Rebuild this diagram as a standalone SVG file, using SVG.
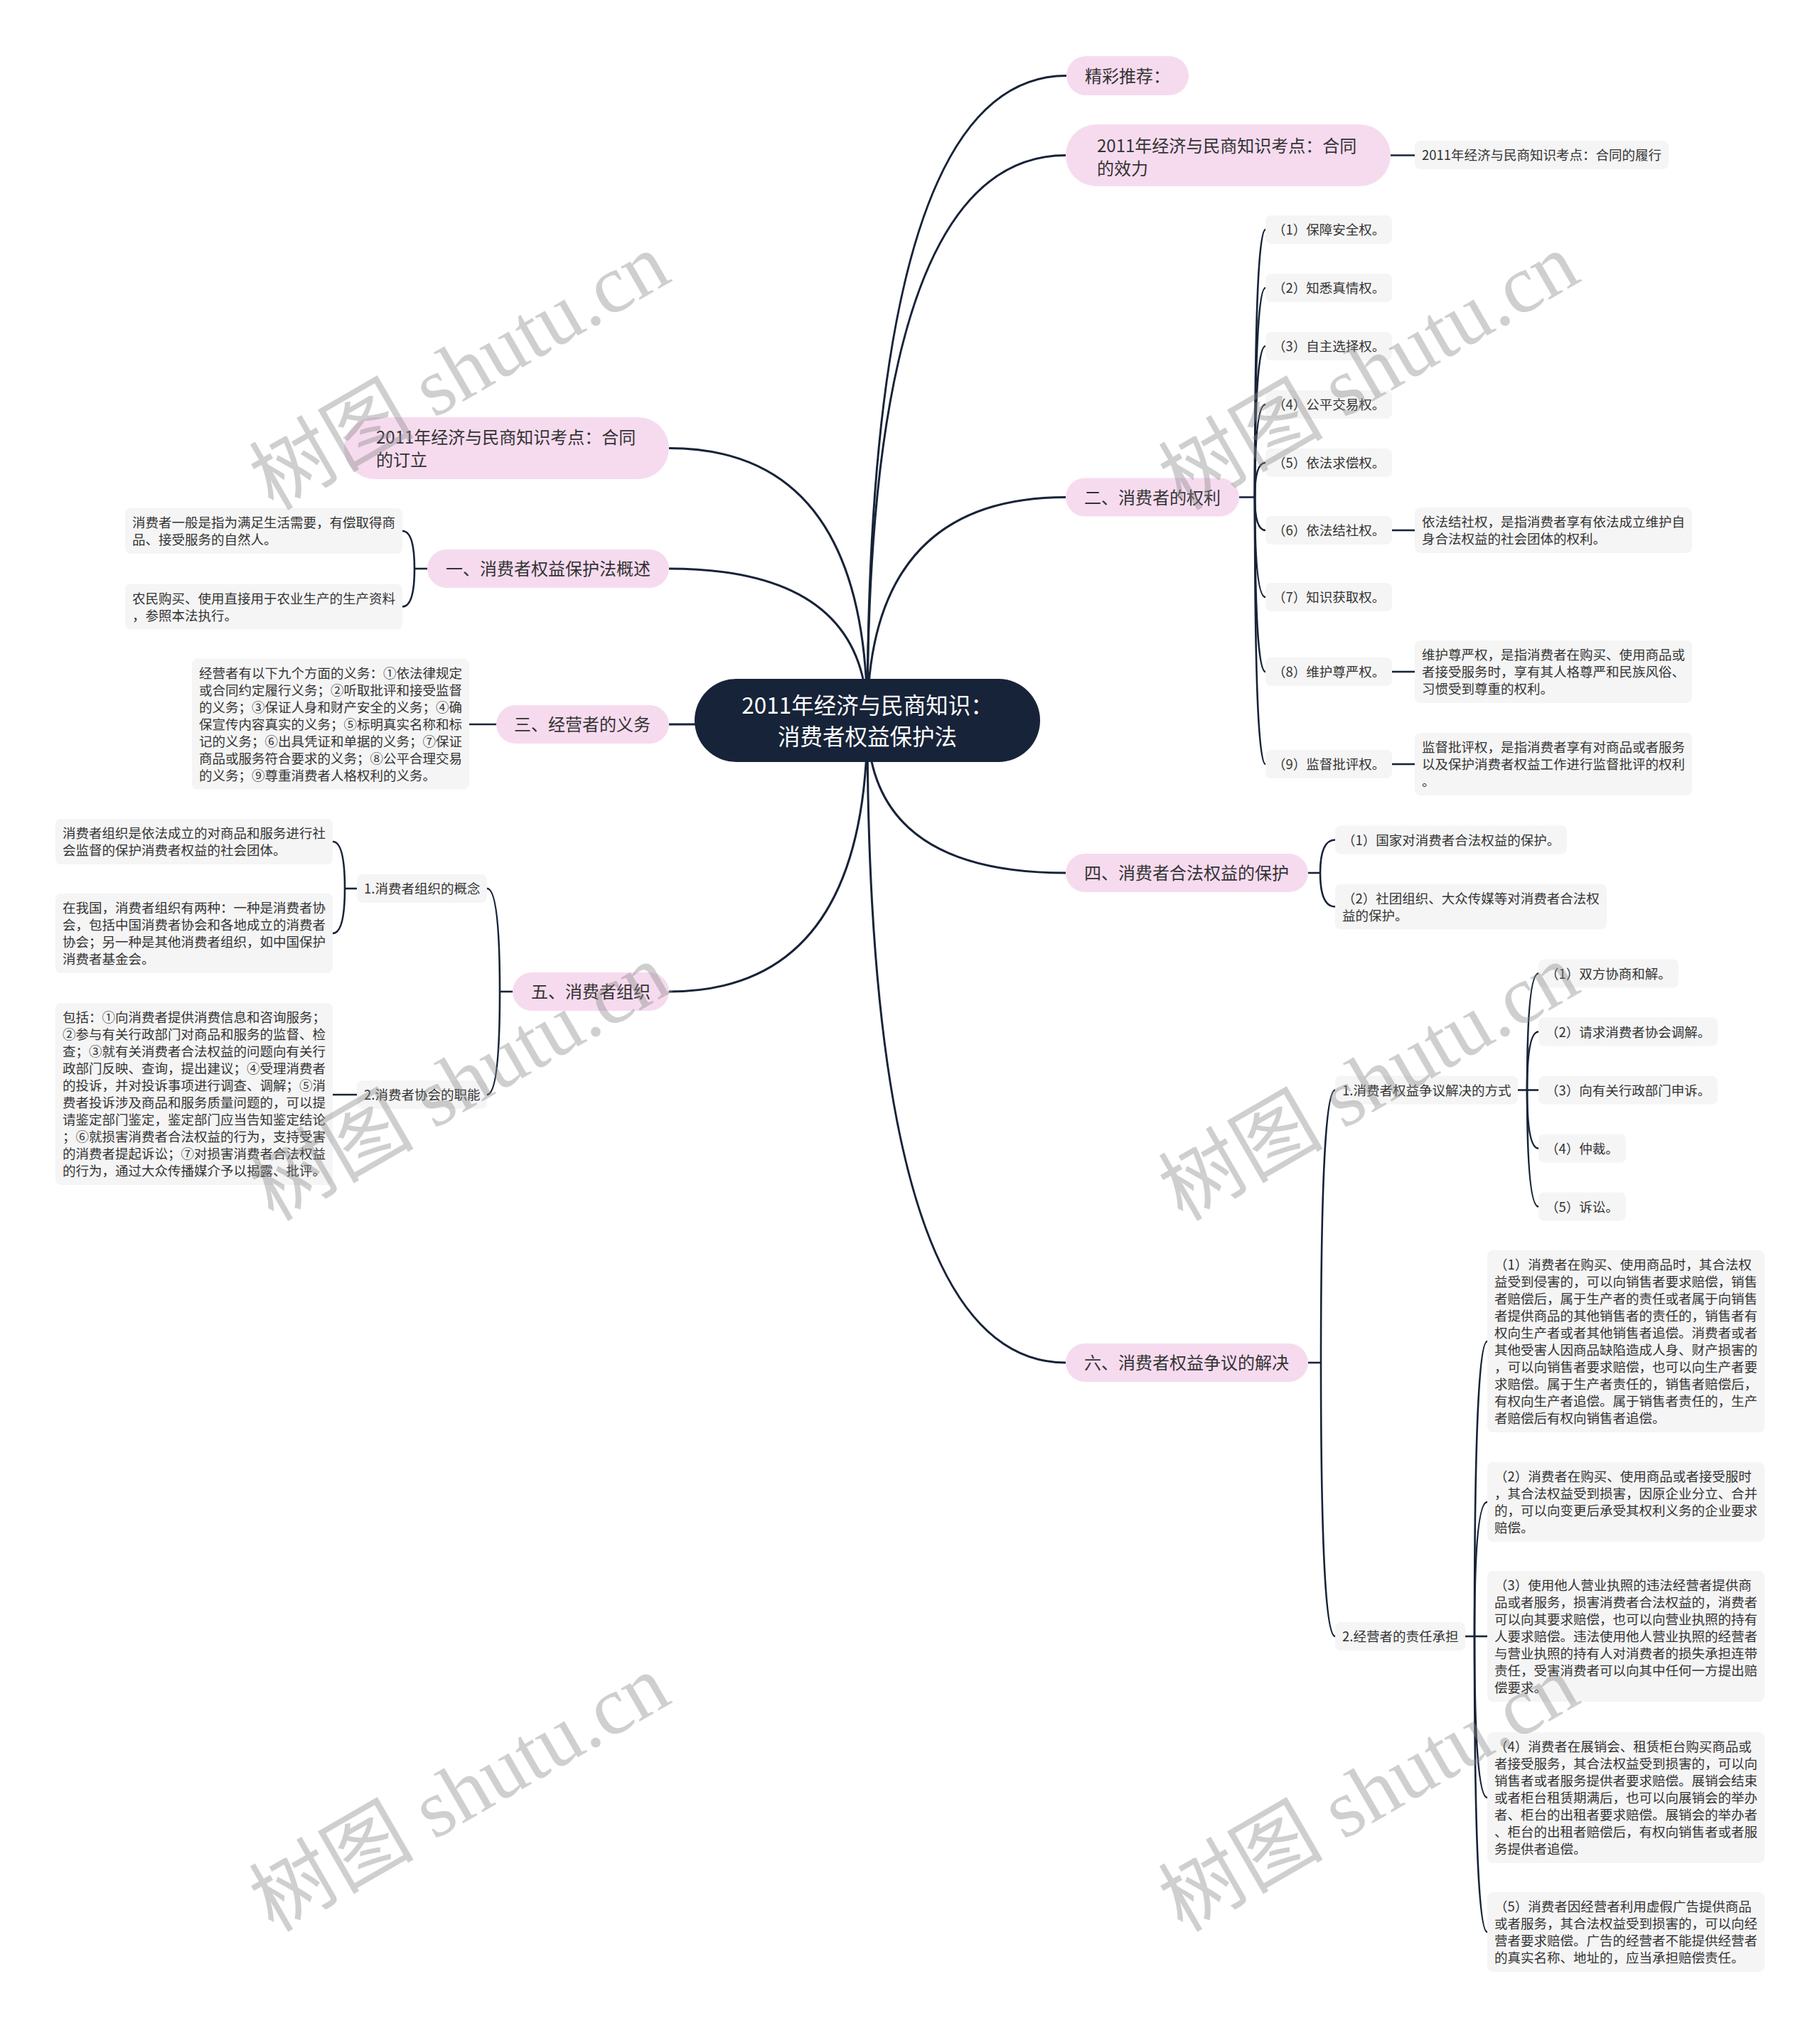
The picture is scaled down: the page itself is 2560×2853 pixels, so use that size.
<svg xmlns="http://www.w3.org/2000/svg" width="2560" height="2853" viewBox="0 0 2560 2853">
<style>
text{font-family:"Noto Sans CJK SC","Noto Sans",sans-serif;fill:#333333}
.pill{fill:#f6dbef}
.leaf{fill:#f5f5f5}
.t1{font-size:24px}
.t2{font-size:24px}
.s{font-size:18.5px}
.rt{font-size:31.5px;fill:#ffffff}
#connectors path{fill:none;stroke:#172338;stroke-width:2.6}
#connectors .m{stroke-width:3}
.wm{font-family:"Liberation Serif","Noto Sans CJK SC",serif;font-size:116px;fill:#8a8a8a;opacity:0.4}
</style>
<rect width="2560" height="2853" fill="#ffffff"/>
<g id="connectors">
<path class="m" d="M1220,1013 Q1220,106.5 1500,106.5"/>
<path class="m" d="M1220,1013 Q1220,218.5 1499,218.5"/>
<path class="m" d="M1220,1013 Q1220,699.5 1499,699.5"/>
<path class="m" d="M1220,1013 Q1220,1228 1499,1228"/>
<path class="m" d="M1220,1013 Q1220,1917 1499,1917"/>
<path class="m" d="M1220,1013 Q1220,630.5 941,630.5"/>
<path class="m" d="M1220,1013 Q1220,800 941,800"/>
<path class="m" d="M1220,1013 Q1220,1019 941,1019"/>
<path class="m" d="M1220,1013 Q1220,1395 941,1395"/>
<path d="M1956,218.5 H1990"/>
<path d="M1743,699.5 H1765"/>
<path d="M1765,699.5 Q1765,323 1780,323"/>
<path d="M1765,699.5 Q1765,405 1780,405"/>
<path d="M1765,699.5 Q1765,487 1780,487"/>
<path d="M1765,699.5 Q1765,569 1780,569"/>
<path d="M1765,699.5 Q1765,651 1780,651"/>
<path d="M1765,699.5 Q1765,746 1780,746"/>
<path d="M1765,699.5 Q1765,840 1780,840"/>
<path d="M1765,699.5 Q1765,945 1780,945"/>
<path d="M1765,699.5 Q1765,1075 1780,1075"/>
<path d="M1958,746 H1990"/>
<path d="M1958,945 H1990"/>
<path d="M1958,1075 H1990"/>
<path d="M1840,1228 H1857"/>
<path d="M1857,1228 Q1857,1181.5 1878,1181.5"/>
<path d="M1857,1228 Q1857,1275.5 1878,1275.5"/>
<path d="M1840,1917 H1858"/>
<path d="M1858,1917 Q1858,1533.5 1878,1533.5"/>
<path d="M1858,1917 Q1858,2302 1878,2302"/>
<path d="M2135,1533.5 H2148"/>
<path d="M2148,1533.5 Q2148,1369.5 2164,1369.5"/>
<path d="M2148,1533.5 Q2148,1451.5 2164,1451.5"/>
<path d="M2148,1533.5 H2164"/>
<path d="M2148,1533.5 Q2148,1615.5 2164,1615.5"/>
<path d="M2148,1533.5 Q2148,1697.5 2164,1697.5"/>
<path d="M2061,2302 H2074"/>
<path d="M2074,2302 Q2074,1887 2092,1887"/>
<path d="M2074,2302 Q2074,2113 2092,2113"/>
<path d="M2074,2302 H2092"/>
<path d="M2074,2302 Q2074,2529 2092,2529"/>
<path d="M2074,2302 Q2074,2718 2092,2718"/>
<path d="M601,800 H583"/>
<path d="M583,800 Q583,747 566,747"/>
<path d="M583,800 Q583,853.5 566,853.5"/>
<path d="M698,1019 H660"/>
<path d="M721,1395 H703"/>
<path d="M703,1395 Q703,1250 685,1250"/>
<path d="M703,1395 Q703,1540 685,1540"/>
<path d="M502,1250 H485"/>
<path d="M485,1250 Q485,1184 468,1184"/>
<path d="M485,1250 Q485,1313 468,1313"/>
<path d="M502,1540 H468"/>
</g>

<g id="root">
<rect x="977" y="955" width="486" height="117" rx="58.5" fill="#172338"/>
<text class="rt" x="1220" y="1003.5" text-anchor="middle">2011年经济与民商知识：</text>
<text class="rt" x="1220" y="1047.5" text-anchor="middle">消费者权益保护法</text>
</g>

<g id="n-jctj">
<rect class="pill" x="1500" y="79" width="172" height="55" rx="27.5"/>
<text class="t1" x="1526" y="115.5">精彩推荐：</text>
</g>
<g id="n-xiaoli">
<rect class="pill" x="1499" y="175" width="457" height="87" rx="43.5"/>
<text class="t2" x="1543" y="213.5">2011年经济与民商知识考点：合同</text>
<text class="t2" x="1543" y="245.5">的效力</text>
</g>
<g id="n-lvxing">
<rect class="leaf" x="1990" y="198" width="357" height="40" rx="8"/>
<text class="s" x="2000" y="225">2011年经济与民商知识考点：合同的履行</text>
</g>

<g id="n-quanli">
<rect class="pill" x="1499" y="672.5" width="244" height="54" rx="27"/>
<text class="t1" x="1525" y="708.5">二、消费者的权利</text>
</g>
<g id="n-r1"><rect class="leaf" x="1780" y="303" width="178" height="40" rx="8"/><text class="s" x="1790" y="330">（1）保障安全权。</text></g>
<g id="n-r2"><rect class="leaf" x="1780" y="385" width="178" height="40" rx="8"/><text class="s" x="1790" y="412">（2）知悉真情权。</text></g>
<g id="n-r3"><rect class="leaf" x="1780" y="467" width="178" height="40" rx="8"/><text class="s" x="1790" y="494">（3）自主选择权。</text></g>
<g id="n-r4"><rect class="leaf" x="1780" y="549" width="178" height="40" rx="8"/><text class="s" x="1790" y="576">（4）公平交易权。</text></g>
<g id="n-r5"><rect class="leaf" x="1780" y="631" width="178" height="40" rx="8"/><text class="s" x="1790" y="658">（5）依法求偿权。</text></g>
<g id="n-r6"><rect class="leaf" x="1780" y="726" width="178" height="40" rx="8"/><text class="s" x="1790" y="753">（6）依法结社权。</text></g>
<g id="n-r7"><rect class="leaf" x="1780" y="820" width="178" height="40" rx="8"/><text class="s" x="1790" y="847">（7）知识获取权。</text></g>
<g id="n-r8"><rect class="leaf" x="1780" y="925" width="178" height="40" rx="8"/><text class="s" x="1790" y="952">（8）维护尊严权。</text></g>
<g id="n-r9"><rect class="leaf" x="1780" y="1055" width="178" height="40" rx="8"/><text class="s" x="1790" y="1082">（9）监督批评权。</text></g>
<g id="n-r6d"><rect class="leaf" x="1990" y="714" width="390" height="64" rx="8"/>
<text class="s" x="2000" y="741">依法结社权，是指消费者享有依法成立维护自</text>
<text class="s" x="2000" y="765">身合法权益的社会团体的权利。</text></g>
<g id="n-r8d"><rect class="leaf" x="1990" y="901" width="390" height="88" rx="8"/>
<text class="s" x="2000" y="928">维护尊严权，是指消费者在购买、使用商品或</text>
<text class="s" x="2000" y="952">者接受服务时，享有其人格尊严和民族风俗、</text>
<text class="s" x="2000" y="976">习惯受到尊重的权利。</text></g>
<g id="n-r9d"><rect class="leaf" x="1990" y="1031" width="390" height="88" rx="8"/>
<text class="s" x="2000" y="1058">监督批评权，是指消费者享有对商品或者服务</text>
<text class="s" x="2000" y="1082">以及保护消费者权益工作进行监督批评的权利</text>
<text class="s" x="2000" y="1106">。</text></g>

<g id="n-baohu">
<rect class="pill" x="1499" y="1201" width="341" height="54" rx="27"/>
<text class="t1" x="1525" y="1237">四、消费者合法权益的保护</text>
</g>
<g id="n-bh1"><rect class="leaf" x="1878" y="1161.5" width="326" height="40" rx="8"/><text class="s" x="1888" y="1188.5">（1）国家对消费者合法权益的保护。</text></g>
<g id="n-bh2"><rect class="leaf" x="1878" y="1243.5" width="382" height="64" rx="8"/>
<text class="s" x="1888" y="1270.5">（2）社团组织、大众传媒等对消费者合法权</text>
<text class="s" x="1888" y="1294.5">益的保护。</text></g>

<g id="n-jiejue">
<rect class="pill" x="1499" y="1890" width="341" height="54" rx="27"/>
<text class="t1" x="1525" y="1926">六、消费者权益争议的解决</text>
</g>
<g id="n-fangshi"><rect class="leaf" x="1878" y="1513.5" width="257" height="40" rx="8"/><text class="s" x="1888" y="1540.5">1.消费者权益争议解决的方式</text></g>
<g id="n-fs1"><rect class="leaf" x="2164" y="1349.5" width="197" height="40" rx="8"/><text class="s" x="2174" y="1376.5">（1）双方协商和解。</text></g>
<g id="n-fs2"><rect class="leaf" x="2164" y="1431.5" width="252" height="40" rx="8"/><text class="s" x="2174" y="1458.5">（2）请求消费者协会调解。</text></g>
<g id="n-fs3"><rect class="leaf" x="2164" y="1513.5" width="252" height="40" rx="8"/><text class="s" x="2174" y="1540.5">（3）向有关行政部门申诉。</text></g>
<g id="n-fs4"><rect class="leaf" x="2164" y="1595.5" width="123" height="40" rx="8"/><text class="s" x="2174" y="1622.5">（4）仲裁。</text></g>
<g id="n-fs5"><rect class="leaf" x="2164" y="1677.5" width="123" height="40" rx="8"/><text class="s" x="2174" y="1704.5">（5）诉讼。</text></g>
<g id="n-zeren"><rect class="leaf" x="1878" y="2282" width="183" height="40" rx="8"/><text class="s" x="1888" y="2309">2.经营者的责任承担</text></g>
<g id="n-zr1"><rect class="leaf" x="2092" y="1759" width="390" height="256" rx="8"/>
<text class="s" x="2102" y="1786">（1）消费者在购买、使用商品时，其合法权</text>
<text class="s" x="2102" y="1810">益受到侵害的，可以向销售者要求赔偿，销售</text>
<text class="s" x="2102" y="1834">者赔偿后，属于生产者的责任或者属于向销售</text>
<text class="s" x="2102" y="1858">者提供商品的其他销售者的责任的，销售者有</text>
<text class="s" x="2102" y="1882">权向生产者或者其他销售者追偿。消费者或者</text>
<text class="s" x="2102" y="1906">其他受害人因商品缺陷造成人身、财产损害的</text>
<text class="s" x="2102" y="1930">，可以向销售者要求赔偿，也可以向生产者要</text>
<text class="s" x="2102" y="1954">求赔偿。属于生产者责任的，销售者赔偿后，</text>
<text class="s" x="2102" y="1978">有权向生产者追偿。属于销售者责任的，生产</text>
<text class="s" x="2102" y="2002">者赔偿后有权向销售者追偿。</text></g>
<g id="n-zr2"><rect class="leaf" x="2092" y="2057" width="390" height="112" rx="8"/>
<text class="s" x="2102" y="2084">（2）消费者在购买、使用商品或者接受服时</text>
<text class="s" x="2102" y="2108">，其合法权益受到损害，因原企业分立、合并</text>
<text class="s" x="2102" y="2132">的，可以向变更后承受其权利义务的企业要求</text>
<text class="s" x="2102" y="2156">赔偿。</text></g>
<g id="n-zr3"><rect class="leaf" x="2092" y="2210" width="390" height="184" rx="8"/>
<text class="s" x="2102" y="2237">（3）使用他人营业执照的违法经营者提供商</text>
<text class="s" x="2102" y="2261">品或者服务，损害消费者合法权益的，消费者</text>
<text class="s" x="2102" y="2285">可以向其要求赔偿，也可以向营业执照的持有</text>
<text class="s" x="2102" y="2309">人要求赔偿。违法使用他人营业执照的经营者</text>
<text class="s" x="2102" y="2333">与营业执照的持有人对消费者的损失承担连带</text>
<text class="s" x="2102" y="2357">责任，受害消费者可以向其中任何一方提出赔</text>
<text class="s" x="2102" y="2381">偿要求。</text></g>
<g id="n-zr4"><rect class="leaf" x="2092" y="2437" width="390" height="184" rx="8"/>
<text class="s" x="2102" y="2464">（4）消费者在展销会、租赁柜台购买商品或</text>
<text class="s" x="2102" y="2488">者接受服务，其合法权益受到损害的，可以向</text>
<text class="s" x="2102" y="2512">销售者或者服务提供者要求赔偿。展销会结束</text>
<text class="s" x="2102" y="2536">或者柜台租赁期满后，也可以向展销会的举办</text>
<text class="s" x="2102" y="2560">者、柜台的出租者要求赔偿。展销会的举办者</text>
<text class="s" x="2102" y="2584">、柜台的出租者赔偿后，有权向销售者或者服</text>
<text class="s" x="2102" y="2608">务提供者追偿。</text></g>
<g id="n-zr5"><rect class="leaf" x="2092" y="2662" width="390" height="112" rx="8"/>
<text class="s" x="2102" y="2689">（5）消费者因经营者利用虚假广告提供商品</text>
<text class="s" x="2102" y="2713">或者服务，其合法权益受到损害的，可以向经</text>
<text class="s" x="2102" y="2737">营者要求赔偿。广告的经营者不能提供经营者</text>
<text class="s" x="2102" y="2761">的真实名称、地址的，应当承担赔偿责任。</text></g>

<g id="n-dingli">
<rect class="pill" x="484" y="587" width="457" height="87" rx="43.5"/>
<text class="t2" x="529" y="623.5">2011年经济与民商知识考点：合同</text>
<text class="t2" x="529" y="655.5">的订立</text>
</g>
<g id="n-gaishu">
<rect class="pill" x="601" y="773" width="340" height="54" rx="27"/>
<text class="t1" x="627" y="809">一、消费者权益保护法概述</text>
</g>
<g id="n-gs1"><rect class="leaf" x="176" y="715" width="390" height="64" rx="8"/>
<text class="s" x="186" y="742">消费者一般是指为满足生活需要，有偿取得商</text>
<text class="s" x="186" y="766">品、接受服务的自然人。</text></g>
<g id="n-gs2"><rect class="leaf" x="176" y="821.5" width="390" height="64" rx="8"/>
<text class="s" x="186" y="848.5">农民购买、使用直接用于农业生产的生产资料</text>
<text class="s" x="186" y="872.5">，参照本法执行。</text></g>

<g id="n-yiwu">
<rect class="pill" x="698" y="992" width="243" height="54" rx="27"/>
<text class="t1" x="723" y="1028">三、经营者的义务</text>
</g>
<g id="n-yw1"><rect class="leaf" x="270" y="926.5" width="390" height="184" rx="8"/>
<text class="s" x="280" y="953.5">经营者有以下九个方面的义务：①依法律规定</text>
<text class="s" x="280" y="977.5">或合同约定履行义务；②听取批评和接受监督</text>
<text class="s" x="280" y="1001.5">的义务；③保证人身和财产安全的义务；④确</text>
<text class="s" x="280" y="1025.5">保宣传内容真实的义务；⑤标明真实名称和标</text>
<text class="s" x="280" y="1049.5">记的义务；⑥出具凭证和单据的义务；⑦保证</text>
<text class="s" x="280" y="1073.5">商品或服务符合要求的义务；⑧公平合理交易</text>
<text class="s" x="280" y="1097.5">的义务；⑨尊重消费者人格权利的义务。</text></g>

<g id="n-zuzhi">
<rect class="pill" x="721" y="1368" width="220" height="54" rx="27"/>
<text class="t1" x="747" y="1404">五、消费者组织</text>
</g>
<g id="n-gainian"><rect class="leaf" x="502" y="1230" width="183" height="40" rx="8"/><text class="s" x="512" y="1257">1.消费者组织的概念</text></g>
<g id="n-zhineng"><rect class="leaf" x="502" y="1520" width="183" height="40" rx="8"/><text class="s" x="512" y="1547">2.消费者协会的职能</text></g>
<g id="n-gn1"><rect class="leaf" x="78" y="1152" width="390" height="64" rx="8"/>
<text class="s" x="88" y="1179">消费者组织是依法成立的对商品和服务进行社</text>
<text class="s" x="88" y="1203">会监督的保护消费者权益的社会团体。</text></g>
<g id="n-gn2"><rect class="leaf" x="78" y="1257" width="390" height="112" rx="8"/>
<text class="s" x="88" y="1284">在我国，消费者组织有两种：一种是消费者协</text>
<text class="s" x="88" y="1308">会，包括中国消费者协会和各地成立的消费者</text>
<text class="s" x="88" y="1332">协会；另一种是其他消费者组织，如中国保护</text>
<text class="s" x="88" y="1356">消费者基金会。</text></g>
<g id="n-zn1"><rect class="leaf" x="78" y="1411" width="390" height="256" rx="8"/>
<text class="s" x="88" y="1438">包括：①向消费者提供消费信息和咨询服务；</text>
<text class="s" x="88" y="1462">②参与有关行政部门对商品和服务的监督、检</text>
<text class="s" x="88" y="1486">查；③就有关消费者合法权益的问题向有关行</text>
<text class="s" x="88" y="1510">政部门反映、查询，提出建议；④受理消费者</text>
<text class="s" x="88" y="1534">的投诉，并对投诉事项进行调查、调解；⑤消</text>
<text class="s" x="88" y="1558">费者投诉涉及商品和服务质量问题的，可以提</text>
<text class="s" x="88" y="1582">请鉴定部门鉴定，鉴定部门应当告知鉴定结论</text>
<text class="s" x="88" y="1606">；⑥就损害消费者合法权益的行为，支持受害</text>
<text class="s" x="88" y="1630">的消费者提起诉讼；⑦对损害消费者合法权益</text>
<text class="s" x="88" y="1654">的行为，通过大众传播媒介予以揭露、批评。</text></g>

<g id="watermarks">
<text class="wm" transform="translate(646,522) rotate(-30)" text-anchor="middle" y="40">树图 shutu.cn</text>
<text class="wm" transform="translate(1925,522) rotate(-30)" text-anchor="middle" y="40">树图 shutu.cn</text>
<text class="wm" transform="translate(646,1522) rotate(-30)" text-anchor="middle" y="40">树图 shutu.cn</text>
<text class="wm" transform="translate(1925,1522) rotate(-30)" text-anchor="middle" y="40">树图 shutu.cn</text>
<text class="wm" transform="translate(646,2522) rotate(-30)" text-anchor="middle" y="40">树图 shutu.cn</text>
<text class="wm" transform="translate(1925,2522) rotate(-30)" text-anchor="middle" y="40">树图 shutu.cn</text>
</g>
</svg>
